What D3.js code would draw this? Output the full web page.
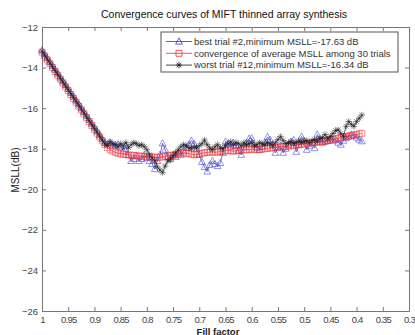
<!DOCTYPE html>
<html>
<head>
<meta charset="utf-8">
<script src="https://cdn.jsdelivr.net/npm/d3@7"></script>
<style>
body { margin: 0; background: #fff; }
svg { display: block; font-family: "Liberation Sans", Arial, sans-serif; }
</style>
</head>
<body>
<script>
const w = 415;
const h = 335;
const margin = {top: 27, right: 6, bottom: 24, left: 42};

// fill factor samples (x)
const fillFactor = [
  1.000, 0.995, 0.990, 0.985, 0.980, 0.975, 0.970, 0.965, 0.960, 0.955,
  0.950, 0.945, 0.940, 0.935, 0.930, 0.925, 0.920, 0.915, 0.910, 0.905,
  0.900, 0.895, 0.890, 0.885, 0.880, 0.875, 0.870, 0.865,
  0.860, 0.855, 0.850, 0.845, 0.840, 0.835, 0.830, 0.825, 0.820, 0.815,
  0.810, 0.805, 0.800, 0.795, 0.790, 0.785, 0.780, 0.775, 0.770, 0.765,
  0.760, 0.755, 0.750, 0.745, 0.740, 0.735, 0.730, 0.725, 0.720, 0.715,
  0.710, 0.705, 0.700, 0.695, 0.690, 0.685, 0.680, 0.675, 0.670, 0.665,
  0.660, 0.655, 0.650, 0.645, 0.640, 0.635, 0.630, 0.625, 0.620, 0.615,
  0.610, 0.605, 0.600, 0.595, 0.590, 0.585, 0.580, 0.575, 0.570, 0.565,
  0.560, 0.555, 0.550, 0.545, 0.540, 0.535, 0.530, 0.525, 0.520, 0.515,
  0.510, 0.505, 0.500, 0.495, 0.490, 0.485, 0.480, 0.475, 0.470, 0.465,
  0.460, 0.455, 0.450, 0.445, 0.440, 0.435, 0.430, 0.425, 0.420, 0.415,
  0.410, 0.405, 0.400, 0.395, 0.390
];

// best trial #2
const bestTrial = [
  -13.15, -13.34, -13.53, -13.72, -13.91, -14.10, -14.29, -14.48, -14.67, -14.86,
  -15.05, -15.24, -15.43, -15.62, -15.81, -16.00, -16.19, -16.38, -16.57, -16.76,
  -16.95, -17.14, -17.33, -17.52, -17.71, -17.75, -17.70, -17.85,
  -17.82, -17.78, -17.90, -18.10, -17.85, -18.30, -18.60, -18.50, -18.35, -18.60,
  -18.50, -18.30, -18.45, -18.60, -18.75, -19.00, -18.60, -18.30, -17.73, -18.05,
  -18.40, -18.50, -18.30, -18.40, -18.20, -18.30, -18.10, -17.95, -17.80, -17.60,
  -17.75, -18.00, -18.30, -18.65, -18.90, -19.12, -18.80, -18.60, -18.75, -18.85,
  -18.70, -18.20, -17.65, -17.75, -17.90, -17.70, -17.85, -18.10, -18.30, -17.90,
  -17.70, -17.50, -17.48, -17.80, -17.95, -18.05, -17.90, -17.70, -17.42, -17.55,
  -17.80, -18.20, -17.95, -17.85, -18.20, -18.00, -17.80, -17.65, -17.57, -18.15,
  -17.80, -17.40, -17.60, -18.05, -17.85, -17.70, -17.97, -17.30, -17.55, -17.70,
  -17.65, -17.60, -17.50, -17.60, -17.55, -17.70, -17.80, -17.60, -17.47, -17.40,
  -17.30, -17.35, -17.45, -17.55, -17.63
];

// average MSLL over 30 trials
const avgTrials = [
  -13.24, -13.43, -13.62, -13.81, -14.00, -14.19, -14.38, -14.57, -14.76, -14.95,
  -15.14, -15.33, -15.52, -15.71, -15.90, -16.09, -16.28, -16.47, -16.66, -16.85,
  -17.04, -17.23, -17.42, -17.61, -17.80, -17.95, -18.05, -18.12,
  -18.18, -18.22, -18.25, -18.27, -18.29, -18.31, -18.32, -18.33, -18.35, -18.36,
  -18.37, -18.38, -18.40, -18.38, -18.40, -18.42, -18.43, -18.42, -18.40, -18.38,
  -18.35, -18.33, -18.32, -18.30, -18.26, -18.22, -18.20, -18.22, -18.24, -18.27,
  -18.30, -18.28, -18.25, -18.22, -18.20, -18.18, -18.17, -18.15, -18.18, -18.16,
  -18.14, -18.12, -18.10, -18.08, -18.10, -18.12, -18.10, -18.08, -18.06, -18.05,
  -18.06, -18.04, -18.02, -18.03, -18.05, -18.04, -18.02, -18.00, -17.98, -17.97,
  -17.95, -17.93, -17.92, -17.90, -17.91, -17.89, -17.87, -17.86, -17.84, -17.82,
  -17.80, -17.78, -17.76, -17.74, -17.72, -17.71, -17.69, -17.67, -17.66, -17.64,
  -17.62, -17.59, -17.57, -17.54, -17.51, -17.48, -17.45, -17.42, -17.40, -17.37,
  -17.35, -17.32, -17.30, -17.27, -17.24
];

// worst trial #12
const worstTrial = [
  -13.20, -13.39, -13.58, -13.77, -13.96, -14.15, -14.34, -14.53, -14.72, -14.91,
  -15.10, -15.29, -15.48, -15.67, -15.86, -16.05, -16.24, -16.43, -16.62, -16.81,
  -17.00, -17.19, -17.38, -17.57, -17.76, -17.85, -17.65, -17.75,
  -17.80, -17.90, -17.75, -17.85, -17.70, -17.95, -17.80, -17.70, -17.75, -17.85,
  -17.80, -17.90, -18.05, -18.30, -18.45, -18.60, -18.90, -19.05, -19.18, -18.85,
  -18.60, -18.55, -18.35, -18.20, -18.05, -17.90, -17.80, -17.85, -17.95, -18.00,
  -17.90, -17.97, -17.85, -17.75, -17.57, -17.80, -17.95, -18.05, -17.90, -17.80,
  -17.95, -18.00, -17.85, -17.75, -17.65, -17.80, -17.70, -17.75, -17.85, -17.70,
  -17.80, -17.75, -17.70, -17.85, -17.80, -17.70, -17.75, -17.80, -17.70, -17.75,
  -17.85, -17.70, -17.55, -17.40, -17.60, -17.75, -17.70, -17.65, -17.75, -17.70,
  -17.60, -17.70, -17.65, -17.60, -17.70, -17.60, -17.55, -17.65, -17.50, -17.45,
  -17.30, -17.50, -17.40, -17.25, -17.10, -17.07, -17.25, -17.40, -16.90, -16.66,
  -16.80, -16.90, -16.66, -16.50, -16.34
];

const xTicks = [1, 0.95, 0.9, 0.85, 0.8, 0.75, 0.7, 0.65, 0.6, 0.55, 0.5, 0.45, 0.4, 0.35, 0.3];
const yTicks = [-26, -24, -22, -20, -18, -16, -14, -12];

const series = [
  {name: "best trial #2,minimum MSLL=-17.63 dB", values: bestTrial, color: "#3535c8", marker: "tri"},
  {name: "convergence of average MSLL among 30 trials", values: avgTrials, color: "#f03030", marker: "sq"},
  {name: "worst trial #12,minimum MSLL=-16.34 dB", values: worstTrial, color: "#1a1a1a", marker: "star"}
];

const markerPath = {
  tri: "M0,-3.6L3.4,2.6L-3.4,2.6Z",
  sq: "M-3,-3H3V3H-3Z",
  star: "M-3.2,0H3.2M0,-3.2V3.2M-2.3,-2.3L2.3,2.3M-2.3,2.3L2.3,-2.3"
};

const svg = d3.select("body").append("svg")
  .attr("width", w)
  .attr("height", h);

const xScale = d3.scaleLinear()
  .domain([1, 0.3])
  .range([margin.left, w - margin.right]);

const yScale = d3.scaleLinear()
  .domain([-26, -12])
  .range([h - margin.bottom, margin.top]);

const x0 = margin.left, x1 = w - margin.right;
const y0 = h - margin.bottom, y1 = margin.top;

// axes box with inward ticks on all four sides
const xAxisB = d3.axisBottom(xScale).tickValues(xTicks).tickSizeInner(-4).tickSizeOuter(0)
  .tickFormat(d => d3.format("")(d));
const xAxisT = d3.axisTop(xScale).tickValues(xTicks).tickSizeInner(-4).tickSizeOuter(0).tickFormat("");
const yAxisL = d3.axisLeft(yScale).tickValues(yTicks).tickSizeInner(-4).tickSizeOuter(0);
const yAxisR = d3.axisRight(yScale).tickValues(yTicks).tickSizeInner(-4).tickSizeOuter(0).tickFormat("");

const gxb = svg.append("g").attr("transform", "translate(0," + y0 + ")").call(xAxisB);
const gxt = svg.append("g").attr("transform", "translate(0," + y1 + ")").call(xAxisT);
const gyl = svg.append("g").attr("transform", "translate(" + x0 + ",0)").call(yAxisL);
const gyr = svg.append("g").attr("transform", "translate(" + x1 + ",0)").call(yAxisR);

[gxb, gxt, gyl, gyr].forEach(g => {
  g.select(".domain").attr("stroke", "#777");
  g.selectAll(".tick line").attr("stroke", "#777");
  g.selectAll("text").attr("fill", "#444").style("font-size", "9.5px");
});
gxb.selectAll("text")
  .attr("y", 5)
  .attr("dy", "0.71em")
  .style("letter-spacing", "-0.8px");
gyl.selectAll("text").attr("x", -4);

// data
const line = d3.line()
  .x((d, i) => xScale(fillFactor[i]))
  .y(d => yScale(d));

series.forEach(s => {
  const g = svg.append("g");
  g.append("path")
    .datum(s.values)
    .attr("fill", "none")
    .attr("stroke", s.color)
    .attr("stroke-width", 0.7)
    .attr("d", line);
  g.selectAll("path.m")
    .data(s.values)
    .enter()
    .append("path")
    .attr("class", "m")
    .attr("d", markerPath[s.marker])
    .attr("transform", (d, i) => "translate(" + xScale(fillFactor[i]) + "," + yScale(d) + ")")
    .attr("fill", "none")
    .attr("stroke", s.color)
    .attr("stroke-opacity", 0.7)
    .attr("stroke-width", 0.75);
});

// legend
const leg = svg.append("g").attr("transform", "translate(161,32)");
leg.append("rect")
  .attr("width", 237)
  .attr("height", 40)
  .attr("fill", "#fff")
  .attr("stroke", "#555")
  .attr("stroke-width", 1);
series.forEach((s, i) => {
  const yy = 9.5 + i * 11.8;
  leg.append("line")
    .attr("x1", 5).attr("x2", 31).attr("y1", yy).attr("y2", yy)
    .attr("stroke", s.color).attr("stroke-width", 0.8);
  leg.append("path")
    .attr("d", markerPath[s.marker])
    .attr("transform", "translate(18," + yy + ")")
    .attr("fill", "none")
    .attr("stroke", s.color)
    .attr("stroke-width", 0.8);
  leg.append("text")
    .attr("x", 33)
    .attr("y", yy)
    .attr("dy", "0.35em")
    .attr("fill", "#333")
    .style("font-size", "9.5px")
    .text(s.name);
});

// titles
svg.append("text")
  .attr("x", 224)
  .attr("y", 18)
  .attr("text-anchor", "middle")
  .style("font-size", "10.5px")
  .attr("fill", "#111")
  .text("Convergence curves of MIFT thinned array synthesis");

svg.append("text")
  .attr("x", 218)
  .attr("y", 334.5)
  .attr("text-anchor", "middle")
  .style("font-size", "9.5px")
  .style("font-weight", "bold")
  .attr("fill", "#222")
  .text("Fill factor");

svg.append("text")
  .attr("transform", "translate(19,170) rotate(-90)")
  .attr("text-anchor", "middle")
  .style("font-size", "10px")
  .attr("fill", "#222")
  .text("MSLL(dB)");
</script>
</body>
</html>
